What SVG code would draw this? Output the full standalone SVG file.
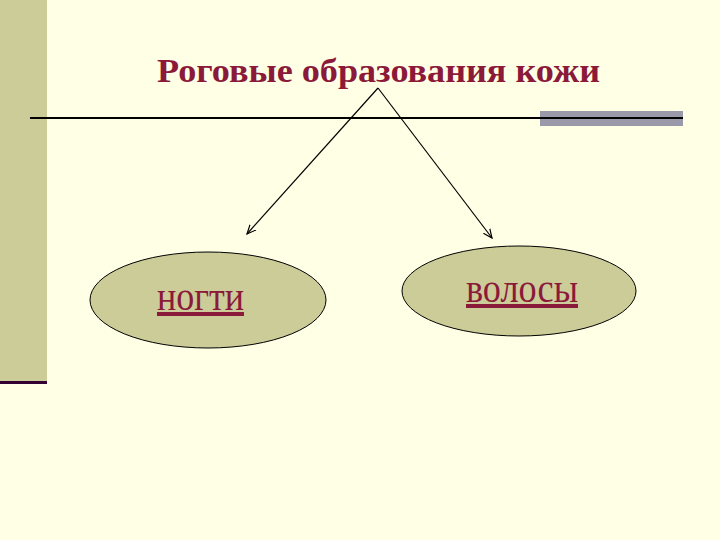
<svg xmlns="http://www.w3.org/2000/svg" width="720" height="540" viewBox="0 0 720 540">
<style>
.t{font-family:"Liberation Serif",serif;fill:#8B1A3A}
.n{fill:#CCCC99;stroke:#000;stroke-width:1}
.c{stroke:#000;stroke-width:1.2;fill:none;marker-end:url(#a)}
</style>
<defs><marker id="a" markerWidth="10" markerHeight="10" refX="9" refY="5" orient="auto" markerUnits="userSpaceOnUse"><path d="M0,1 L9,5 L0,9" fill="none" stroke="#000" stroke-width="1.2"/></marker></defs>
<rect width="720" height="540" fill="#FFFFE5"/>
<rect x="0" y="0" width="47" height="383" fill="#CCCC99"/>
<rect x="0" y="381" width="47" height="3" fill="#330033"/>
<rect x="540" y="111" width="143" height="15" fill="#9999AA"/>
<line x1="30" y1="118" x2="683" y2="118" stroke="#000" stroke-width="2"/>
<text class="t" x="157" y="82" font-size="34" font-weight="bold" textLength="443" lengthAdjust="spacingAndGlyphs">Роговые образования кожи</text>
<g id="connectors">
<line class="c" x1="378" y1="88" x2="247" y2="234"/>
<line class="c" x1="378" y1="88" x2="492" y2="238"/>
</g>
<g id="nogti">
<ellipse class="n" cx="208" cy="300" rx="118" ry="48"/>
<text class="t" x="157" y="310" font-size="40" textLength="87" lengthAdjust="spacingAndGlyphs" text-decoration="underline">ногти</text>
</g>
<g id="volosy">
<ellipse class="n" cx="519" cy="291" rx="117" ry="45"/>
<text class="t" x="466" y="302" font-size="40" textLength="112" lengthAdjust="spacingAndGlyphs" text-decoration="underline">волосы</text>
</g>
</svg>
